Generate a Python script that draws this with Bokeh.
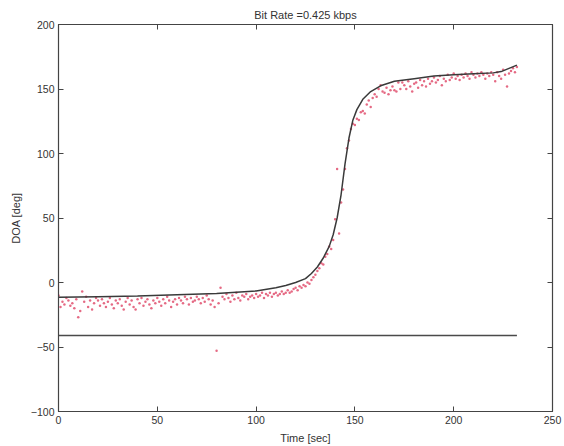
from bokeh.plotting import figure
from bokeh.models import LinearAxis, FixedTicker, Range1d, CustomJSTickFormatter
from bokeh.embed import file_html
from bokeh.resources import INLINE

title_text = "Bit Rate =0.425 kbps"
x_label = "Time [sec]"
y_label = "DOA [deg]"
x_ticks = [0, 50, 100, 150, 200, 250]
y_ticks = [-100, -50, 0, 50, 100, 150, 200]

# smooth estimate (black curve)
curve_t = [0, 20, 40, 60, 80, 100, 110, 115, 120, 125, 128, 131, 134, 137, 139, 141,
           143, 145, 147, 149, 151, 154, 158, 163, 170, 180, 190, 200, 210, 220, 224, 228, 232]
curve_v = [-11.5, -11, -10.5, -9.5, -8.5, -6.5, -4, -2.3, 0, 3, 7, 12, 19, 28, 37, 50,
           68, 92, 112, 126, 134, 142, 148, 152.5, 156, 158, 160, 161, 161.8, 162.5, 163.5, 166, 168.5]

# reference line
ref_t = [0, 232]
ref_v = [-41, -41]

# measured DOA (red dots), one per second from t = 0
doa_v = [
    -10, -19, -15, -17, -12, -14, -18, -16, -20, -13,
    -27, -22, -7, -15, -11, -19, -14, -21, -16, -12,
    -14, -18, -13, -16, -19, -15, -12, -17, -20, -14,
    -16, -13, -18, -21, -15, -12, -17, -14, -19, -21,
    -13, -16, -12, -18, -15, -13, -17, -20, -14, -16,
    -12, -15, -18, -13, -16, -11, -14, -19, -15, -13,
    -17, -12, -14, -16, -11, -13, -17, -12, -15, -14,
    -11, -13, -16, -12, -15, -10, -13, -17, -14, -19,
    -53, -16, -4, -11, -13, -9, -12, -15, -10, -13,
    -8, -12, -14, -10, -11, -9, -13, -11, -10, -12,
    -9, -11, -10, -8, -12, -9, -10, -8, -11, -9,
    -8, -10, -9, -7, -9, -8, -6, -8, -7, -5,
    -4, -6, -3, -4, -2, -3, 0, -1, 2, 4,
    6, 9, 11, 15, 14, 20, 22, 28, 26, 33,
    49, 88, 38, 62, 72, 88, 104, 110, 119, 123,
    122, 127, 126, 132, 133, 131, 138, 141, 136, 143,
    146, 144, 150, 153, 148, 147, 151, 146, 149, 152,
    149, 148, 155, 150, 155, 153, 150, 156, 152, 148,
    154, 155, 151, 157, 153, 156, 152, 158, 154, 156,
    159, 155, 157, 160, 153, 158, 156, 161, 157, 159,
    162, 158, 160, 157, 161, 159, 162, 160, 158, 163,
    161, 159, 162, 160, 163, 161, 158, 162, 160, 163,
    161, 156, 163, 160, 158, 165, 161, 152, 162, 164,
    166, 163, 167,
]
doa_t = list(range(len(doa_v)))

FONT = "Liberation Sans"
TXT = "#333333"
AX = "#444444"

p = figure(width=564, height=446, output_backend="svg", toolbar_location=None,
           x_range=Range1d(0, 250), y_range=Range1d(-100, 200),
           min_border_left=58, min_border_right=12, min_border_top=24, min_border_bottom=34,
           background_fill_color="white", border_fill_color="white")

p.title.text = title_text
p.title.align = "center"
p.title.text_font = FONT
p.title.text_font_size = "11px"
p.title.text_font_style = "normal"
p.title.text_color = TXT
p.title.standoff = 8
p.title.offset = 0

p.xgrid.visible = False
p.ygrid.visible = False
p.outline_line_color = AX
p.outline_line_width = 1.2

for ax, ticks in ((p.xaxis[0], x_ticks), (p.yaxis[0], y_ticks)):
    ax.ticker = FixedTicker(ticks=ticks)
    ax.major_tick_in = 5
    ax.major_tick_out = 0
    ax.minor_tick_in = 0
    ax.minor_tick_out = 0
    ax.axis_line_color = AX
    ax.major_tick_line_color = AX
    ax.major_label_text_font = FONT
    ax.major_label_text_font_size = "10.5px"
    ax.major_label_text_color = TXT
    ax.major_label_standoff = 4
    ax.axis_label_text_font = FONT
    ax.axis_label_text_font_size = "11px"
    ax.axis_label_text_font_style = "normal"
    ax.axis_label_text_color = TXT

p.xaxis[0].axis_label = x_label
p.xaxis[0].axis_label_standoff = 5
p.yaxis[0].axis_label = y_label
p.yaxis[0].axis_label_standoff = 6

blank = CustomJSTickFormatter(code="return ''")
for loc, ticks in (("right", y_ticks), ("above", x_ticks)):
    a = LinearAxis(ticker=FixedTicker(ticks=ticks), formatter=blank)
    a.major_tick_in = 5
    a.major_tick_out = 0
    a.minor_tick_in = 0
    a.minor_tick_out = 0
    a.axis_line_color = AX
    a.major_tick_line_color = AX
    a.major_label_text_font_size = "1px"
    a.major_label_standoff = 0
    p.add_layout(a, loc)

p.line(ref_t, ref_v, line_color="#4a4a4a", line_width=1.5)
p.scatter(doa_t, doa_v, marker="circle", size=2.5, fill_color="#e0506e",
          line_color=None, fill_alpha=0.85)
p.line(curve_t, curve_v, line_color="#3a3a3a", line_width=1.5)

open("out.html", "w").write(file_html(p, INLINE))
